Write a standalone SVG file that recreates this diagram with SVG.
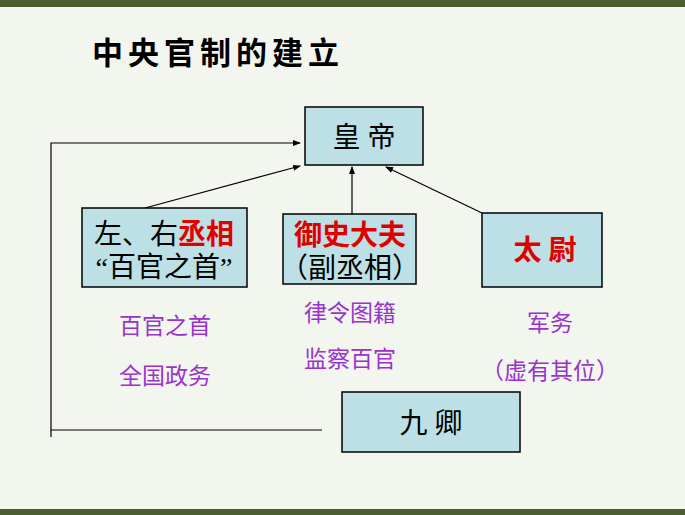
<svg xmlns="http://www.w3.org/2000/svg" width="685" height="515" viewBox="0 0 685 515">
<style>
.box{fill:#bde0e6;stroke:#000;stroke-width:1.5}
.t{font-family:"Liberation Serif","Noto Sans CJK SC",serif;font-size:28px;text-anchor:middle;fill:#000}
.r{fill:#e00000;font-weight:bold}
.p{font-family:"Liberation Serif","Noto Sans CJK SC",serif;font-size:23px;text-anchor:middle;fill:#9933cc}
.c{stroke:#000;stroke-width:1.2;fill:none}
</style>
<defs><marker id="a" markerWidth="8" markerHeight="8" refX="7" refY="4" orient="auto" markerUnits="userSpaceOnUse"><path d="M0,1L8,4L0,7z" fill="#000"/></marker></defs>
<rect width="685" height="515" fill="#f3f5ef"/>
<rect width="685" height="7" fill="#4a5e32"/>
<rect y="509" width="685" height="6" fill="#4a5e32"/>
<text x="218" y="64" font-family="'Noto Sans CJK SC',serif" font-size="31" font-weight="bold" text-anchor="middle" letter-spacing="5">中央官制的建立</text>
<g id="connectors">
<line class="c" x1="145" y1="208" x2="300" y2="166" marker-end="url(#a)"/>
<line class="c" x1="352" y1="214" x2="352" y2="167" marker-end="url(#a)"/>
<line class="c" x1="482" y1="213" x2="386" y2="167" marker-end="url(#a)"/>
<polyline class="c" points="322,430 51,430 51,143 300,143" marker-end="url(#a)"/>
<line class="c" x1="51" y1="430" x2="51" y2="437"/>
</g>
<g id="huangdi"><rect class="box" x="305" y="107" width="118" height="58"/><text class="t" x="364" y="147">皇 帝</text></g>
<g id="chengxiang"><rect class="box" x="82" y="208" width="165" height="79"/><text class="t" x="164" y="244">左、右<tspan class="r">丞相</tspan></text><text class="t" x="164" y="277">“百官之首”</text></g>
<g id="yushi"><rect class="box" x="283" y="214" width="133" height="70"/><text class="t r" x="350" y="245">御史大夫</text><text class="t" x="350" y="278">（副丞相）</text></g>
<g id="taiwei"><rect class="box" x="482" y="213" width="120" height="74"/><text class="t r" x="545" y="260">太 尉</text></g>
<g id="jiuqing"><rect class="box" x="342" y="392" width="178" height="60"/><text class="t" x="431" y="433">九 卿</text></g>
<text class="p" x="165" y="334">百官之首</text>
<text class="p" x="165" y="384">全国政务</text>
<text class="p" x="350" y="321">律令图籍</text>
<text class="p" x="350" y="367">监察百官</text>
<text class="p" x="550" y="331">军务</text>
<text class="p" x="550" y="379">（虚有其位）</text>
</svg>
